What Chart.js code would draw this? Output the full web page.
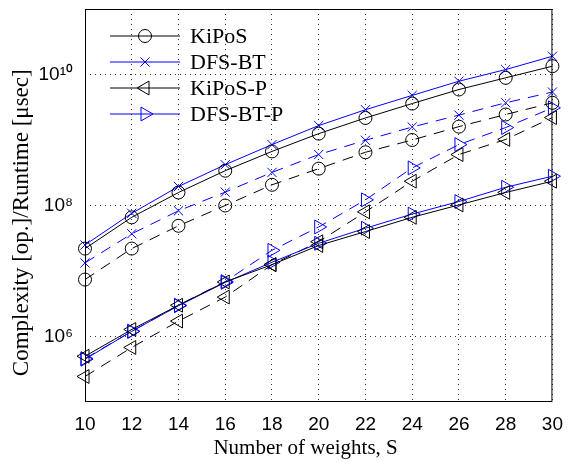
<!DOCTYPE html>
<html lang="en">
<head>
<meta charset="UTF-8">
<title>Complexity / runtime vs number of weights</title>
<script src="https://cdn.jsdelivr.net/npm/chart.js"></script>
<style>
  html, body { margin: 0; padding: 0; background: #fff; }
  #wrap { width: 574px; height: 461px; }
</style>
</head>
<body>
<div id="wrap"><canvas id="chart" width="574" height="461"></canvas></div>
<script>
// number of weights S (x axis)
const weights = ['10', '12', '14', '16', '18', '20', '22', '24', '26', '28', '30'];

// complexity [op.] - solid lines
const kiposOps   = [2.2e7, 6.6e7, 1.58e8, 3.4e8, 6.7e8, 1.25e9, 2.17e9, 3.6e9, 5.9e9, 8.9e9, 1.34e10];
const dfsbtOps   = [2.5e7, 7.6e7, 1.95e8, 4.2e8, 8.5e8, 1.66e9, 2.9e9, 4.8e9, 7.9e9, 1.19e10, 1.9e10];
const kiposPOps  = [5.0e5, 1.28e6, 3.0e6, 6.8e6, 1.25e7, 2.45e7, 4.0e7, 6.6e7, 1.02e8, 1.58e8, 2.35e8];
const dfsbtPOps  = [4.5e5, 1.2e6, 2.95e6, 6.7e6, 1.36e7, 2.65e7, 4.5e7, 7.4e7, 1.15e8, 1.9e8, 2.8e8];

// runtime [usec] - dashed lines
const kiposTime  = [7.4e6, 2.2e7, 4.9e7, 1.0e8, 2.07e8, 3.65e8, 6.5e8, 1.0e9, 1.6e9, 2.45e9, 3.7e9];
const dfsbtTime  = [1.33e7, 3.7e7, 8.3e7, 1.6e8, 3.2e8, 6.0e8, 9.9e8, 1.58e9, 2.4e9, 3.7e9, 5.4e9];
const kiposPTime = [2.45e5, 6.8e5, 1.72e6, 4.0e6, 1.25e7, 2.8e7, 8.0e7, 2.35e8, 6.0e8, 1.02e9, 2.2e9];
const dfsbtPTime = [4.6e5, 1.2e6, 3.0e6, 6.9e6, 2.07e7, 4.7e7, 1.22e8, 3.75e8, 8.5e8, 1.55e9, 3.1e9];

// y tick values and labels (every other decade)
const yTickValues = [1e6, 1e8, 1e10];
const yTickLabels = ['10\u2076', '10\u2078', '10\u00b9\u2070'];

const legendNames = ['KiPoS', 'DFS-BT', 'KiPoS-P', 'DFS-BT-P'];

const BLACK = '#000000';
const BLUE = '#0000ff';
const SANS = '"Liberation Sans", Arial, sans-serif';
const SERIF = '"Liberation Serif", "Times New Roman", serif';
const NBSP = '\u00a0';

function series(data, color, style, rotation, radius, dashed) {
  return {
    data: data,
    borderColor: color,
    borderWidth: 1,
    borderDash: dashed ? [11, 8] : [],
    pointStyle: style,
    rotation: rotation,
    pointRadius: radius,
    pointBorderColor: color,
    pointBackgroundColor: 'rgba(0,0,0,0)',
    pointBorderWidth: 1,
    fill: false,
    tension: 0
  };
}

const datasets = [
  series(kiposOps, BLACK, 'circle', 0, 6.5, false),
  series(dfsbtOps, BLUE, 'crossRot', 0, 6.5, false),
  series(kiposPOps, BLACK, 'triangle', -90, 8, false),
  series(dfsbtPOps, BLUE, 'triangle', 90, 8, false),
  series(kiposTime, BLACK, 'circle', 0, 6.5, true),
  series(dfsbtTime, BLUE, 'crossRot', 0, 6.5, true),
  series(kiposPTime, BLACK, 'triangle', -90, 8, true),
  series(dfsbtPTime, BLUE, 'triangle', 90, 8, true)
];
datasets.forEach((d, i) => { d.label = legendNames[i % 4] + (i < 4 ? '' : ' (runtime)'); });

// box around the plot area
const framePlugin = {
  id: 'frame',
  afterDatasetsDraw(chart) {
    const a = chart.chartArea;
    const ctx = chart.ctx;
    ctx.save();
    ctx.strokeStyle = BLACK;
    ctx.lineWidth = 1;
    ctx.setLineDash([]);
    ctx.strokeRect(a.left + 0.5, a.top + 0.5, a.right - a.left - 1, a.bottom - a.top - 1);
    ctx.restore();
  }
};

// legend drawn inside the axes, line + marker like the original figure
const insideLegend = {
  id: 'insideLegend',
  afterDraw(chart) {
    const a = chart.chartArea;
    const ctx = chart.ctx;
    ctx.save();
    for (let i = 0; i < 4; i++) {
      const ds = chart.data.datasets[i];
      const y = a.top + 27 + i * 26;
      const x0 = a.left + 25, x1 = x0 + 70;
      ctx.setLineDash([]);
      ctx.lineWidth = 1;
      ctx.strokeStyle = ds.borderColor;
      ctx.beginPath();
      ctx.moveTo(x0, y);
      ctx.lineTo(x1, y);
      ctx.stroke();
      ctx.fillStyle = 'rgba(0,0,0,0)';
      Chart.helpers.drawPoint(ctx, {
        pointStyle: ds.pointStyle,
        rotation: ds.rotation,
        radius: ds.pointRadius,
        borderWidth: 1
      }, (x0 + x1) / 2, y);
      ctx.fillStyle = BLACK;
      ctx.font = '22px ' + SERIF;
      ctx.textBaseline = 'middle';
      ctx.textAlign = 'left';
      ctx.fillText(legendNames[i], x1 + 10, y + 1);
    }
    ctx.restore();
  }
};

new Chart(document.getElementById('chart'), {
  type: 'line',
  data: { labels: weights, datasets: datasets },
  plugins: [framePlugin, insideLegend],
  options: {
    responsive: false,
    animation: false,
    devicePixelRatio: 1,
    layout: { padding: { top: 9, right: 20, left: 0, bottom: 0 } },
    plugins: { legend: { display: false }, tooltip: { enabled: false } },
    scales: {
      x: {
        type: 'category',
        offset: false,
        afterFit(scale) { scale.height = 59; },
        grid: { color: '#333', lineWidth: 1, drawTicks: false },
        border: { display: false, dash: [1, 4] },
        ticks: { color: BLACK, font: { family: SANS, size: 19 }, padding: 11, maxRotation: 0, autoSkip: false },
        title: {
          display: true,
          text: 'Number of weights, S' + NBSP.repeat(5),
          color: BLACK,
          font: { family: SERIF, size: 21 },
          padding: { top: 0, bottom: 0 }
        }
      },
      y: {
        type: 'logarithmic',
        min: 1e5,
        max: 1e11,
        afterFit(scale) {
          scale.width = 85;
          scale.paddingTop = 0;
          scale.paddingBottom = 0;
        },
        afterBuildTicks(scale) { scale.ticks = yTickValues.map(v => ({ value: v })); },
        grid: { color: '#333', lineWidth: 1, drawTicks: false },
        border: { display: false, dash: [1, 4] },
        ticks: {
          color: BLACK,
          font: { family: SANS, size: 19 },
          padding: 12,
          callback: (v) => yTickLabels[yTickValues.indexOf(v)] || ''
        },
        title: {
          display: true,
          text: 'Complexity [op.]/Runtime [\u03bcsec]' + NBSP.repeat(6),
          color: BLACK,
          font: { family: SERIF, size: 23 },
          padding: { top: 8, bottom: 0 }
        }
      }
    }
  }
});
</script>
</body>
</html>
